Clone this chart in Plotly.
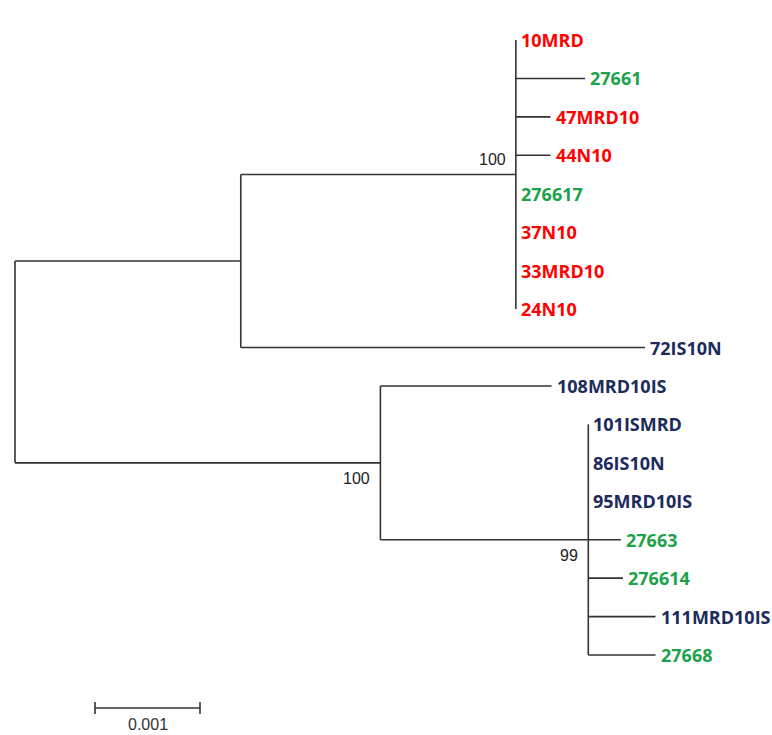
import plotly.graph_objects as go

# ---- data: tree topology, branch lengths, labels ----
leaf_names = ["10MRD", "27661", "47MRD10", "44N10", "276617", "37N10", "33MRD10", "24N10",
              "72IS10N", "108MRD10IS", "101ISMRD", "86IS10N", "95MRD10IS", "27663",
              "276614", "111MRD10IS", "27668"]
leaf_parents = ["C"] * 8 + ["A", "B"] + ["D"] * 7
leaf_lengths = [0.0, 0.00066, 0.00033, 0.00033, 0.0, 0.0, 0.0, 0.0,
                0.00385, 0.00163, 0.0, 0.0, 0.0, 0.00031, 0.00033, 0.00064, 0.00064]
leaf_groups = ["case", "ref", "case", "case", "ref", "case", "case", "case",
               "is", "is", "is", "is", "is", "ref", "ref", "is", "ref"]

internal_names = ["A", "B", "C", "D"]
internal_parents = ["root", "root", "A", "B"]
internal_lengths = [0.00215, 0.00348, 0.00262, 0.00198]

bootstrap_nodes = ["C", "B", "D"]
bootstrap_values = [100, 100, 99]

scale_length = 0.001
scale_label = "0.001"

# ---- styles ----
group_colors = {"case": "#FF0000", "ref": "#1CA24A", "is": "#1B2B5C"}
line_color = "#333333"
boot_pos = {"C": "above", "B": "below", "D": "below"}

# ---- compute layout of the tree ----
parent = {"root": None}
blen = {"root": 0.0}
for n, p, l in zip(internal_names, internal_parents, internal_lengths):
    parent[n] = p
    blen[n] = l
for n, p, l in zip(leaf_names, leaf_parents, leaf_lengths):
    parent[n] = p
    blen[n] = l

children = {}
for n in list(internal_names) + list(leaf_names):
    children.setdefault(parent[n], []).append(n)

leaf_index = {n: i for i, n in enumerate(leaf_names)}

xpos = {}
def get_x(n):
    if n in xpos:
        return xpos[n]
    v = 0.0 if parent[n] is None else get_x(parent[n]) + blen[n]
    xpos[n] = v
    return v

ypos = {}
def get_y(n):
    if n in ypos:
        return ypos[n]
    if n in leaf_index:
        v = float(leaf_index[n])
    else:
        ys = [get_y(c) for c in children[n]]
        v = (min(ys) + max(ys)) / 2.0
    ypos[n] = v
    return v

all_nodes = ["root"] + internal_names + leaf_names
for n in all_nodes:
    get_x(n)
    get_y(n)

lx, ly = [], []
for n in all_nodes:
    p = parent[n]
    if p is not None:
        lx += [xpos[p], xpos[n], None]
        ly += [ypos[n], ypos[n], None]
for n in ["root"] + internal_names:
    ys = [ypos[c] for c in children[n]]
    lx += [xpos[n], xpos[n], None]
    ly += [min(ys), max(ys), None]

fig = go.Figure()
fig.add_trace(go.Scatter(x=lx, y=ly, mode="lines",
                         line=dict(color=line_color, width=1.6),
                         hoverinfo="skip", showlegend=False))

for n, g in zip(leaf_names, leaf_groups):
    fig.add_annotation(x=xpos[n], y=ypos[n], text=n, showarrow=False,
                       xanchor="left", yanchor="middle", xshift=3,
                       font=dict(family="Open Sans", size=18, weight="bold",
                                 color=group_colors[g]))

for n, v in zip(bootstrap_nodes, bootstrap_values):
    fig.add_annotation(x=xpos[n], y=ypos[n], text=str(v), showarrow=False,
                       xanchor="right", yanchor="middle", xshift=-8,
                       yshift=15 if boot_pos[n] == "above" else -16,
                       font=dict(family="Liberation Sans", size=16, color="#222222"))

# scale bar
sb_x0 = 0.000762
sb_y = 1 - 708 / 735
fig.add_shape(type="line", xref="x", yref="paper", x0=sb_x0, x1=sb_x0 + scale_length,
              y0=sb_y, y1=sb_y, line=dict(color=line_color, width=1.6))
for xx in [sb_x0, sb_x0 + scale_length]:
    fig.add_shape(type="line", xref="x", yref="paper", x0=xx, x1=xx,
                  y0=sb_y - 0.008, y1=sb_y + 0.008, line=dict(color=line_color, width=1.6))
fig.add_annotation(x=sb_x0 + scale_length / 2, y=sb_y, xref="x", yref="paper",
                   text=scale_label, showarrow=False, yanchor="top", yshift=-6,
                   font=dict(family="Liberation Sans", size=16, color="#333333"))

px_per_unit = 105000.0
fig.update_layout(
    width=772, height=735,
    margin=dict(l=0, r=0, t=0, b=0),
    paper_bgcolor="white", plot_bgcolor="white",
    xaxis=dict(range=[-15 / px_per_unit, 757 / px_per_unit], visible=False, fixedrange=True),
    yaxis=dict(range=[(735 - 40) / 38.44, -40 / 38.44], visible=False, fixedrange=True),
)

fig.write_html("out.html", config={"displayModeBar": False},
               post_script="document.body.style.margin='0';document.body.style.overflow='hidden';")
